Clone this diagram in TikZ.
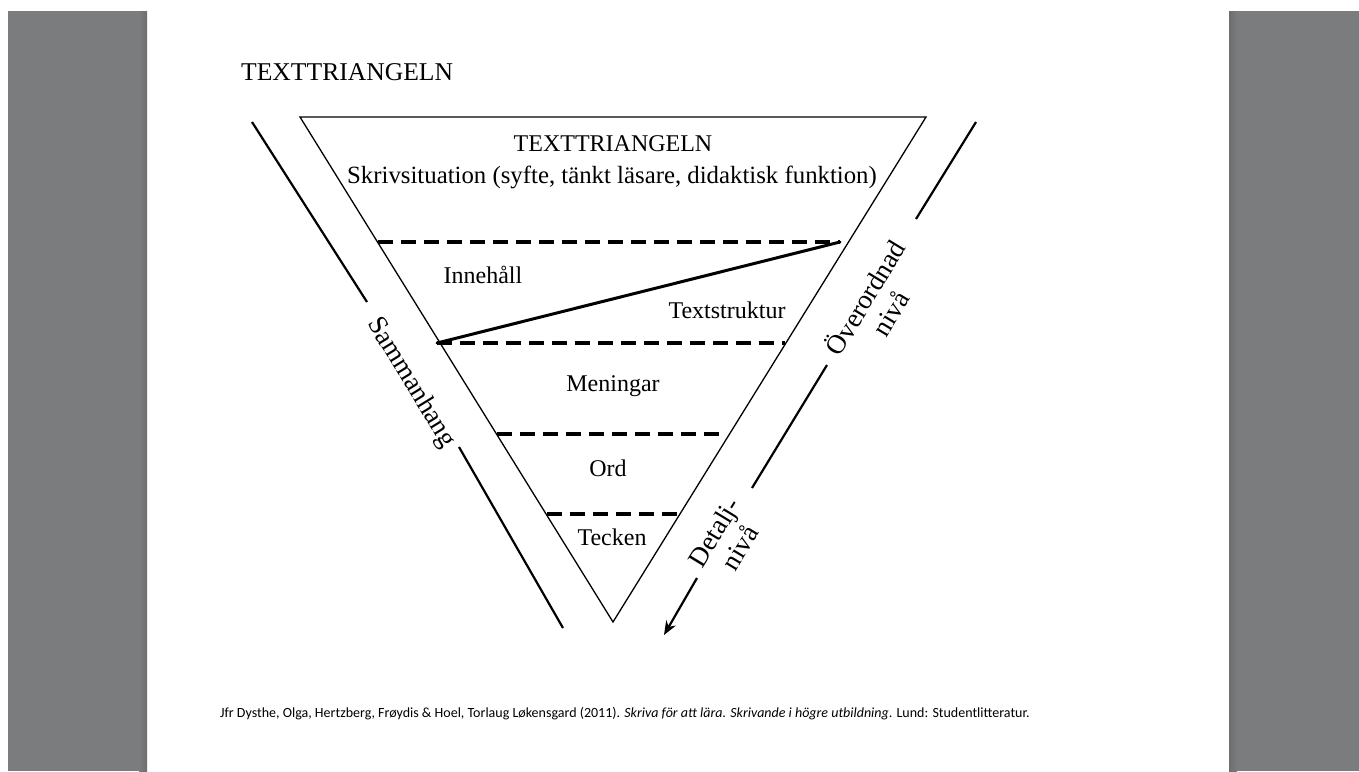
\documentclass[tikz,border=0pt]{standalone}
\usepackage{fontspec}
\setmainfont{Liberation Serif}
\newfontfamily\footfont{Carlito}
\usetikzlibrary{arrows.meta}
\definecolor{bandgray}{HTML}{7B7C7E}
\definecolor{bandshade}{HTML}{6C6D6F}
\begin{document}
\begin{tikzpicture}[x=1pt,y=-1pt,
  lbl/.style={font=\fontsize{24}{27}\selectfont, inner sep=0pt, anchor=base},
  rotlbl/.style={font=\fontsize{27}{30}\selectfont, inner sep=0pt, align=center},
  tri/.style={line width=1.3pt, line join=miter},
  side/.style={line width=2.2pt},
  level/.style={line width=3.5pt, dash pattern=on 15pt off 8pt},
  link/.style={line width=3pt, line cap=round}]
% canvas
\useasboundingbox (0,0) rectangle (1359,771);
\fill[white] (0,0) rectangle (1359,771);
\fill[bandgray] (8,11) rectangle (147,771);
\fill[bandgray] (1229,11) rectangle (1359,771);
\shade[left color=bandgray, right color=bandshade] (139,11) rectangle (147,771);
\shade[left color=bandshade, right color=bandgray] (1229,11) rectangle (1237,771);
% title
\node[lbl, anchor=base west, font=\fontsize{25.6}{28}\selectfont] (title) at (241,80) {TEXTTRIANGELN};
% triangle
\coordinate (A) at (300,117);
\coordinate (B) at (926,117);
\coordinate (C) at (613,622);
\draw[tri] (A) -- (B) -- (C) -- cycle;
% levels
\coordinate (l1a) at (378,242); \coordinate (l1b) at (840,242);
\coordinate (l2a) at (437,343); \coordinate (l2b) at (785,343);
\coordinate (l3a) at (497,434); \coordinate (l3b) at (725,434);
\coordinate (l4a) at (547,514); \coordinate (l4b) at (680,514);
\draw[level] (l1a) -- (l1b);
\draw[level] (l2a) -- (l2b);
\draw[level] (l3a) -- (l3b);
\draw[level] (l4a) -- (l4b);
\draw[link] (l2a) -- (l1b);
% texts inside
\node[lbl] (ttitle) at (613,151) {TEXTTRIANGELN};
\node[lbl, font=\fontsize{24.8}{27}\selectfont] (skriv) at (612,183) {Skrivsituation (syfte, tänkt läsare, didaktisk funktion)};
\node[lbl] (innehall) at (483,283) {Innehåll};
\node[lbl] (textstr) at (727,318) {Textstruktur};
\node[lbl] (meningar) at (613,391) {Meningar};
\node[lbl] (ord) at (608,476) {Ord};
\node[lbl] (tecken) at (612,545) {Tecken};
% left side
\coordinate (s1a) at (252,122); \coordinate (s1b) at (367,302);
\coordinate (s2a) at (459,447); \coordinate (s2b) at (563,628);
\draw[side] (s1a) -- (s1b);
\draw[side] (s2a) -- (s2b);
\node[rotlbl, rotate=-58.4] (samman) at (411,383) {Sammanhang};
% right side
\coordinate (r1a) at (976,122); \coordinate (r1b) at (916,219);
\coordinate (r2a) at (827,365); \coordinate (r2b) at (752,488);
\coordinate (r3a) at (697,578); \coordinate (r3b) at (664,635);
\draw[side] (r1a) -- (r1b);
\draw[side] (r2a) -- (r2b);
\draw[side, -{Stealth[length=14pt,width=11pt]}] (r3a) -- (r3b);
\node[rotlbl, rotate=58.7] (over) at (877,305) {Överordnad\\nivå};
\node[rotlbl, rotate=58.7] (detalj) at (727,540) {Detalj-\\nivå};
% footer
\node[anchor=base west, inner sep=0pt, font=\footfont\fontsize{14}{16}\selectfont] (foot) at (220,717)
 {Jfr Dysthe, Olga, Hertzberg, Frøydis \& Hoel, Torlaug Løkensgard (2011). \textit{Skriva för att lära. Skrivande i högre utbildning}. Lund: Studentlitteratur.};
\end{tikzpicture}
\end{document}
